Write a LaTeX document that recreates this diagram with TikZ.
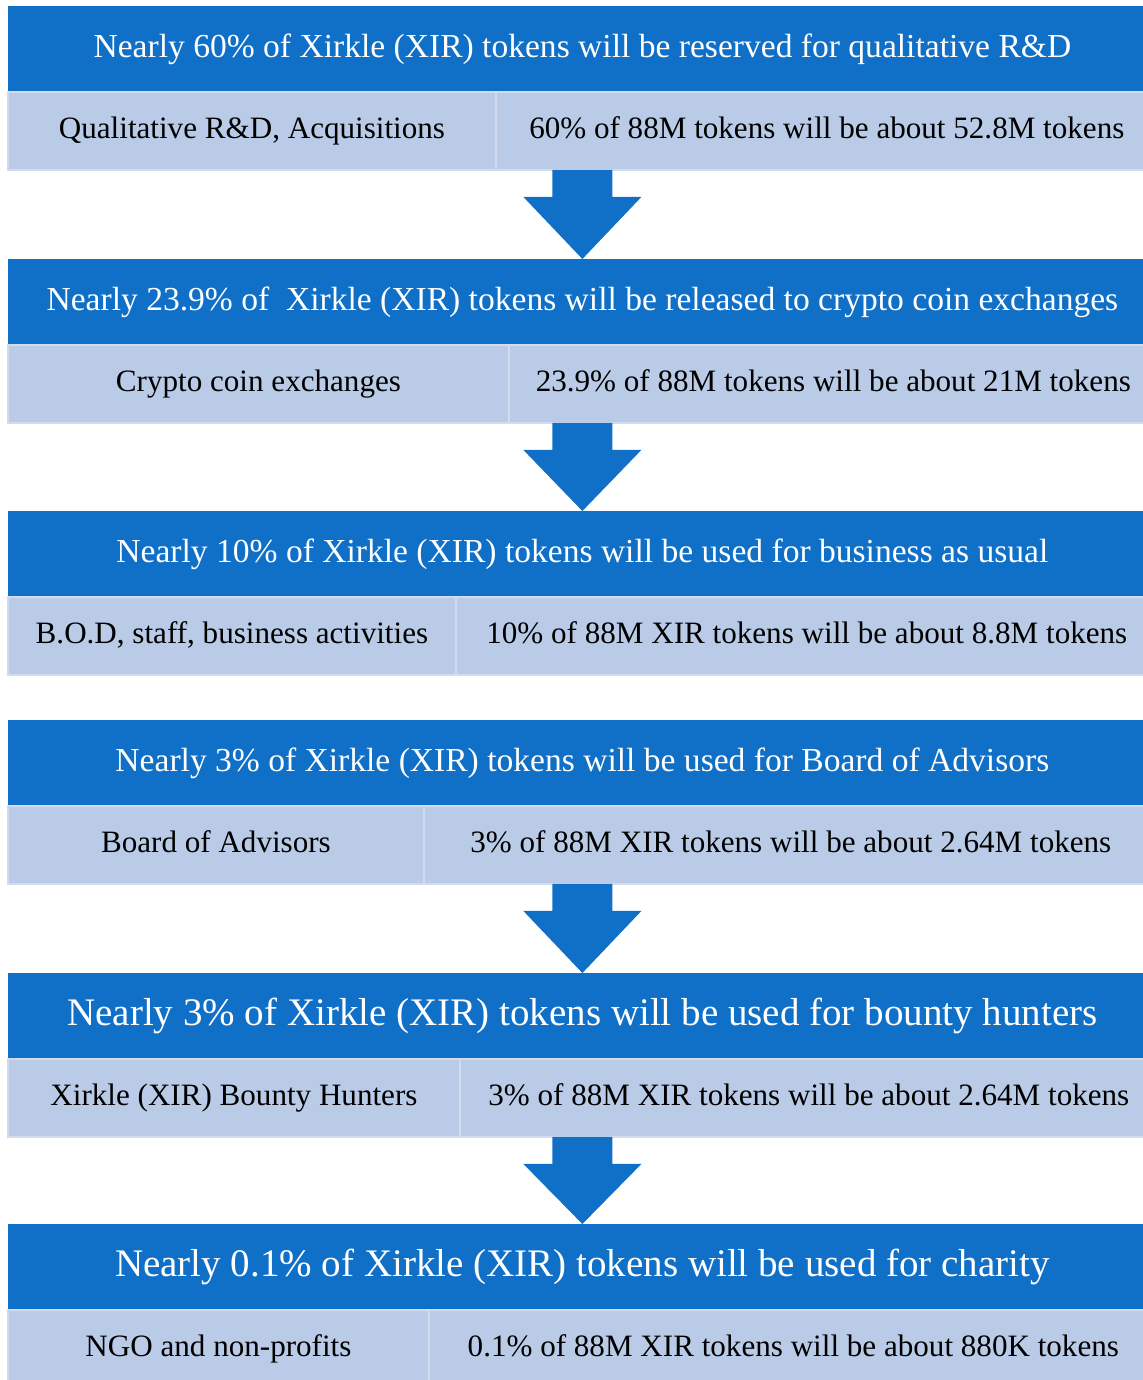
\documentclass[tikz,border=0pt]{standalone}
\usepackage{fontspec}
\setmainfont{Liberation Serif}
\usetikzlibrary{positioning,calc}

\definecolor{headblue}{RGB}{16,112,199}
\definecolor{cellblue}{RGB}{185,203,230}
\definecolor{cellline}{RGB}{210,220,238}

\tikzset{
	head/.style={fill=headblue,text=white,anchor=north west,inner sep=0pt,outer sep=0pt,
		text height=13pt,text depth=3.6pt,
		minimum width=22.98cm,minimum height=1.72cm,font=\fontsize{19.1}{23}\selectfont},
	bighead/.style={head,text height=15pt,text depth=4.2pt,font=\fontsize{22.2}{26}\selectfont},
	cell/.style={fill=cellblue,draw=cellline,line width=1.1pt,inner sep=0pt,outer sep=0pt,
		text height=12pt,text depth=3.9pt,
		minimum height=1.56cm,font=\fontsize{17.7}{21}\selectfont},
	blockarrow/.style={fill=headblue}
}

\begin{document}
\begin{tikzpicture}[x=0.02cm,y=-0.02cm]
	\useasboundingbox (0,0) rectangle (1143,1380);
	%Khoi 1
	\node[head] (h1) at (8,6) {Nearly 60\% of Xirkle (XIR) tokens will be reserved for qualitative R\&D};
	\node[cell,anchor=north west,minimum width=9.76cm] (a1) at (h1.south west) {Qualitative R\&D, Acquisitions};
	\node[cell,right=0pt of a1,minimum width=13.24cm] (b1) {60\% of 88M tokens will be about 52.8M tokens};
	%Khoi 2
	\node[head] (h2) at (8,259) {Nearly 23.9\% of \ Xirkle (XIR) tokens will be released to crypto coin exchanges};
	\node[cell,anchor=north west,minimum width=10.02cm] (a2) at (h2.south west) {Crypto coin exchanges};
	\node[cell,right=0pt of a2,minimum width=12.98cm] (b2) {23.9\% of 88M tokens will be about 21M tokens};
	%Khoi 3
	\node[head] (h3) at (8,511) {Nearly 10\% of Xirkle (XIR) tokens will be used for business as usual};
	\node[cell,anchor=north west,minimum width=8.96cm] (a3) at (h3.south west) {B.O.D, staff, business activities};
	\node[cell,right=0pt of a3,minimum width=14.04cm] (b3) {10\% of 88M XIR tokens will be about 8.8M tokens};
	%Khoi 4
	\node[head] (h4) at (8,720) {Nearly 3\% of Xirkle (XIR) tokens will be used for Board of Advisors};
	\node[cell,anchor=north west,minimum width=8.32cm] (a4) at (h4.south west) {Board of Advisors};
	\node[cell,right=0pt of a4,minimum width=14.68cm] (b4) {3\% of 88M XIR tokens will be about 2.64M tokens};
	%Khoi 5
	\node[bighead] (h5) at (8,973) {Nearly 3\% of Xirkle (XIR) tokens will be used for bounty hunters};
	\node[cell,anchor=north west,minimum width=9.04cm] (a5) at (h5.south west) {Xirkle (XIR) Bounty Hunters};
	\node[cell,right=0pt of a5,minimum width=13.96cm] (b5) {3\% of 88M XIR tokens will be about 2.64M tokens};
	%Khoi 6
	\node[bighead] (h6) at (8,1224) {Nearly 0.1\% of Xirkle (XIR) tokens will be used for charity};
	\node[cell,anchor=north west,minimum width=8.42cm] (a6) at (h6.south west) {NGO and non-profits};
	\node[cell,right=0pt of a6,minimum width=14.58cm] (b6) {0.1\% of 88M XIR tokens will be about 880K tokens};
	%Mui ten
	\fill[blockarrow] ($(a1.south -| h2.north)+(-30,0)$) -- ++(60,0) -- ++(0,27) -- ++(29,0) -- (h2.north)
		-- ($(a1.south -| h2.north)+(-59,27)$) -- ++(29,0) -- cycle;
	\fill[blockarrow] ($(a2.south -| h3.north)+(-30,0)$) -- ++(60,0) -- ++(0,27) -- ++(29,0) -- (h3.north)
		-- ($(a2.south -| h3.north)+(-59,27)$) -- ++(29,0) -- cycle;
	\fill[blockarrow] ($(a4.south -| h5.north)+(-30,0)$) -- ++(60,0) -- ++(0,27) -- ++(29,0) -- (h5.north)
		-- ($(a4.south -| h5.north)+(-59,27)$) -- ++(29,0) -- cycle;
	\fill[blockarrow] ($(a5.south -| h6.north)+(-30,0)$) -- ++(60,0) -- ++(0,27) -- ++(29,0) -- (h6.north)
		-- ($(a5.south -| h6.north)+(-59,27)$) -- ++(29,0) -- cycle;
\end{tikzpicture}
\end{document}
